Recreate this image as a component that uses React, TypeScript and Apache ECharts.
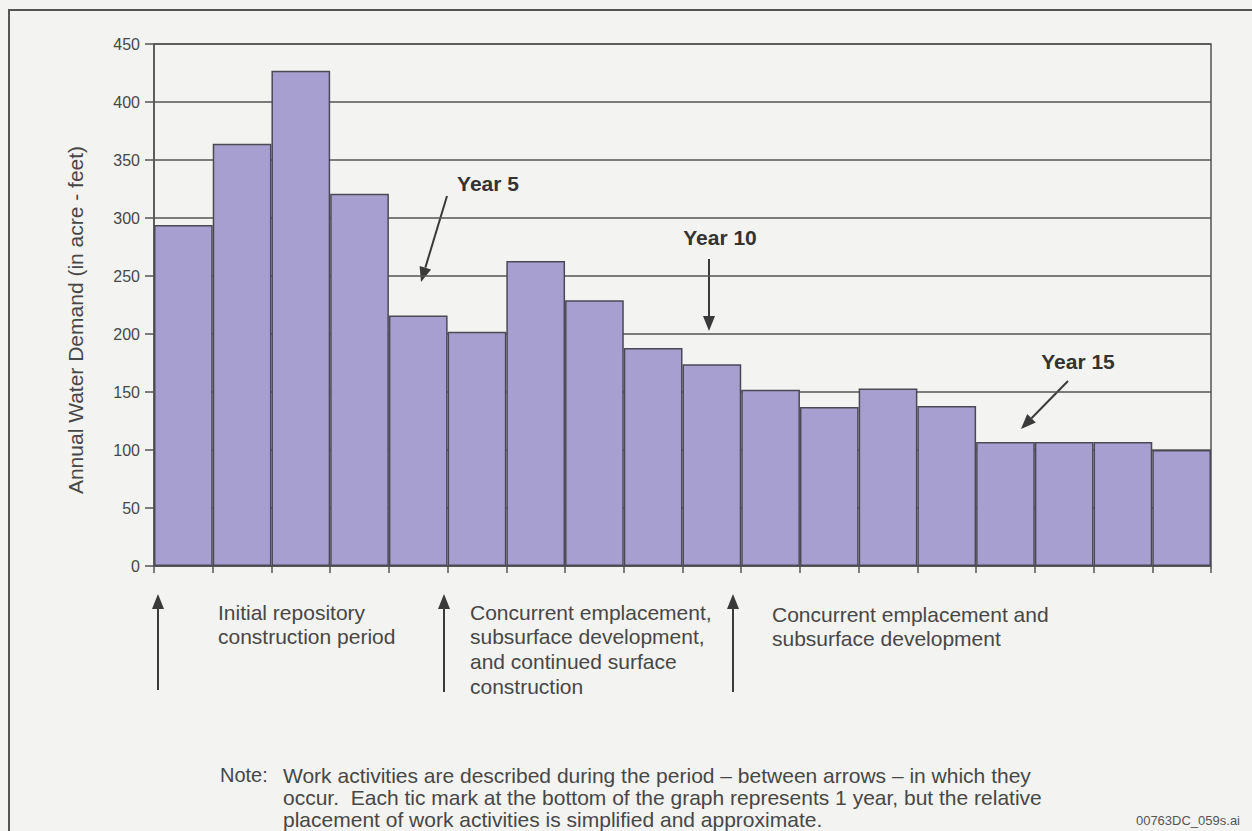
import React, { useEffect, useRef } from "react";
import * as echarts from "echarts";

const years = ["1","2","3","4","5","6","7","8","9","10","11","12","13","14","15","16","17","18"];
const demand = [294, 364, 427, 321, 216, 202, 263, 229, 188, 174, 152, 137, 153, 138, 107, 107, 107, 100];
const yTicks = { min: 0, max: 450, interval: 50 };
const yTitle = "Annual Water Demand (in acre - feet)";
const yearNotes = ["Year 5", "Year 10", "Year 15"];
const periodNotes = [
  ["Initial repository", "construction period"],
  ["Concurrent emplacement,", "subsurface development,", "and continued surface", "construction"],
  ["Concurrent emplacement and", "subsurface development"],
];
const noteLines = [
  "Work activities are described during the period \u2013 between arrows \u2013 in which they",
  "occur.  Each tic mark at the bottom of the graph represents 1 year, but the relative",
  "placement of work activities is simplified and approximate.",
];
const fileTag = "00763DC_059s.ai";

const FONT = "Liberation Sans, Arial, Helvetica, sans-serif";
const INK = "#3a3a3a";

function arrow(x1: number, y1: number, x2: number, y2: number, head = 15, half = 6) {
  const dx = x2 - x1, dy = y2 - y1;
  const len = Math.sqrt(dx * dx + dy * dy);
  const ux = dx / len, uy = dy / len;
  const bx = x2 - ux * head, by = y2 - uy * head;
  const px = -uy, py = ux;
  return [
    { type: "line", shape: { x1, y1, x2: bx, y2: by }, style: { stroke: INK, lineWidth: 2 } },
    {
      type: "polygon",
      shape: { points: [[x2, y2], [bx + px * half, by + py * half], [bx - px * half, by - py * half]] },
      style: { fill: INK },
    },
  ];
}

function textLines(lines: string[], x: number, y: number, gap: number, size: number, extra: any = {}) {
  return lines.map((t, i) => ({
    type: "text",
    x,
    y: y + i * gap,
    style: {
      text: t,
      fill: "#474747",
      font: `${size}px ${FONT}`,
      textVerticalAlign: "middle",
      ...extra,
    },
  }));
}

export default function App() {
  const ref = useRef<HTMLDivElement>(null);
  useEffect(() => {
    if (!ref.current) return;
    const chart = echarts.init(ref.current, null, { renderer: "svg" });
    const graphics: any[] = [
      {
        type: "rect",
        shape: { x: 9, y: 10, width: 1260, height: 840 },
        style: { fill: "none", stroke: "#555", lineWidth: 2 },
        silent: true,
      },
      {
        type: "text",
        x: 75,
        y: 320,
        rotation: Math.PI / 2,
        style: {
          text: yTitle,
          fill: "#474747",
          font: `21px ${FONT}`,
          textAlign: "center",
          textVerticalAlign: "middle",
        },
      },
      // Year annotations
      { type: "text", x: 488, y: 183, style: { text: yearNotes[0], fill: "#333", font: `bold 21px ${FONT}`, textAlign: "center", textVerticalAlign: "middle" } },
      ...arrow(447, 196, 421, 282),
      { type: "text", x: 720, y: 237, style: { text: yearNotes[1], fill: "#333", font: `bold 21px ${FONT}`, textAlign: "center", textVerticalAlign: "middle" } },
      ...arrow(709, 259, 709, 331),
      { type: "text", x: 1078, y: 361, style: { text: yearNotes[2], fill: "#333", font: `bold 21px ${FONT}`, textAlign: "center", textVerticalAlign: "middle" } },
      ...arrow(1068, 381, 1021, 429),
      // Period arrows
      ...arrow(158, 690, 158, 594),
      ...arrow(444, 692, 444, 594),
      ...arrow(733, 692, 733, 594),
      ...textLines(periodNotes[0], 218, 612, 24.5, 21),
      ...textLines(periodNotes[1], 470, 612, 24.7, 21),
      ...textLines(periodNotes[2], 772, 614, 24.5, 21),
      { type: "text", x: 220, y: 775, style: { text: "Note:", fill: "#474747", font: `20px ${FONT}`, textVerticalAlign: "middle" } },
      ...textLines(noteLines, 283, 775, 22, 21),
      { type: "text", x: 1240, y: 820, style: { text: fileTag, fill: "#555", font: `13px ${FONT}`, textAlign: "right", textVerticalAlign: "middle" } },
    ];
    chart.setOption({
      animation: false,
      backgroundColor: "#f3f3f1",
      grid: {
        left: 154,
        right: 41,
        top: 44,
        bottom: 265,
        show: true,
        borderColor: "#555",
        borderWidth: 1.5,
        backgroundColor: "transparent",
      },
      xAxis: {
        type: "category",
        data: years,
        boundaryGap: true,
        axisLine: { show: true, lineStyle: { color: "#555", width: 1.5 } },
        axisTick: { show: true, length: 7, lineStyle: { color: "#555", width: 1.5 } },
        axisLabel: { show: false },
        splitLine: { show: false },
      },
      yAxis: {
        type: "value",
        min: yTicks.min,
        max: yTicks.max,
        interval: yTicks.interval,
        axisLine: { show: true, lineStyle: { color: "#555", width: 1.5 } },
        axisTick: { show: true, length: 9, lineStyle: { color: "#555", width: 1.5 } },
        axisLabel: { color: "#474747", fontSize: 16, fontFamily: FONT, margin: 14 },
        splitLine: { show: true, lineStyle: { color: "#555", width: 1.5 } },
      },
      series: [
        {
          type: "bar",
          data: demand,
          barCategoryGap: "0%",
          itemStyle: { color: "#a79fcf", borderColor: "#4a4a55", borderWidth: 1.5 },
          z: 3,
        },
      ],
      graphic: graphics,
    });
    return () => chart.dispose();
  }, []);
  return (
    <div
      ref={ref}
      style={{ position: "absolute", left: 0, top: 0, width: 1252, height: 831 }}
    />
  );
}
